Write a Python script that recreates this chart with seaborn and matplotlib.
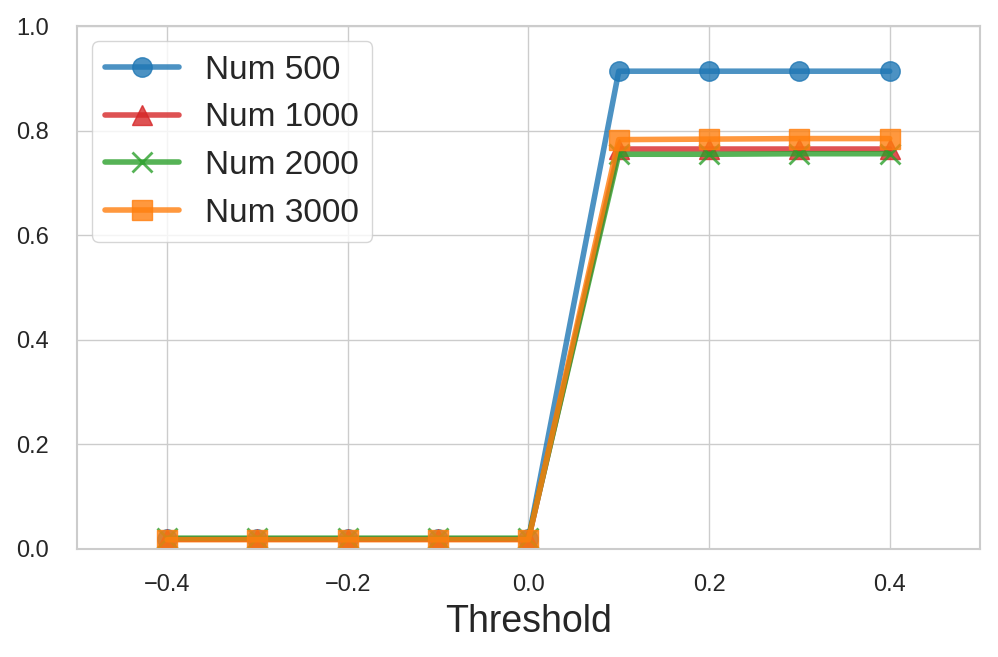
import matplotlib
matplotlib.use("Agg")
import matplotlib.pyplot as plt
import seaborn as sns
import pandas as pd

thresholds = [-0.4, -0.3, -0.2, -0.1, 0.0, 0.1, 0.2, 0.3, 0.4]
num_500 = [0.018, 0.018, 0.018, 0.018, 0.018, 0.914, 0.914, 0.914, 0.914]
num_1000 = [0.018, 0.018, 0.018, 0.018, 0.018, 0.765, 0.765, 0.765, 0.765]
num_2000 = [0.02, 0.02, 0.02, 0.02, 0.02, 0.755, 0.755, 0.756, 0.756]
num_3000 = [0.017, 0.017, 0.017, 0.017, 0.017, 0.783, 0.784, 0.785, 0.785]
series_names = ["Num 500", "Num 1000", "Num 2000", "Num 3000"]
series_values = [num_500, num_1000, num_2000, num_3000]

colors = ["tab:blue", "tab:red", "tab:green", "tab:orange"]
markers = ["o", "^", "x", "s"]

sns.set_theme(style="whitegrid")
plt.rcParams['font.family'] = ['Liberation Sans', 'DejaVu Sans']

fig, ax = plt.subplots(figsize=(9.98, 6.57), dpi=100)
for name, vals, c, m in zip(series_names, series_values, colors, markers):
    df = pd.DataFrame({"Threshold": thresholds, "value": vals})
    sns.lineplot(data=df, x="Threshold", y="value", ax=ax, color=c, marker=m,
                 markersize=14, linewidth=4, alpha=0.8, label=name,
                 markeredgewidth=2 if m == "x" else 1, markeredgecolor=c)

ax.set_xlim(-0.5, 0.5)
ax.set_ylim(0, 1.0)
ax.set_xticks([-0.4, -0.2, 0.0, 0.2, 0.4])
ax.set_yticks([0.0, 0.2, 0.4, 0.6, 0.8, 1.0])
ax.tick_params(axis="both", labelsize=17)
ax.tick_params(axis="x", pad=12)
ax.tick_params(axis="y", pad=14)
ax.set_xlabel("Threshold", fontsize=27, labelpad=6)
ax.set_ylabel("")
for s in ax.spines.values():
    s.set_color("#cccccc")
    s.set_linewidth(1.5)
ax.legend(loc="upper left", fontsize=24, handlelength=2.2, frameon=True,
          borderaxespad=0.45)
fig.subplots_adjust(left=0.077, right=0.982, top=0.96, bottom=0.165)
fig.savefig("out.png", dpi=100)
